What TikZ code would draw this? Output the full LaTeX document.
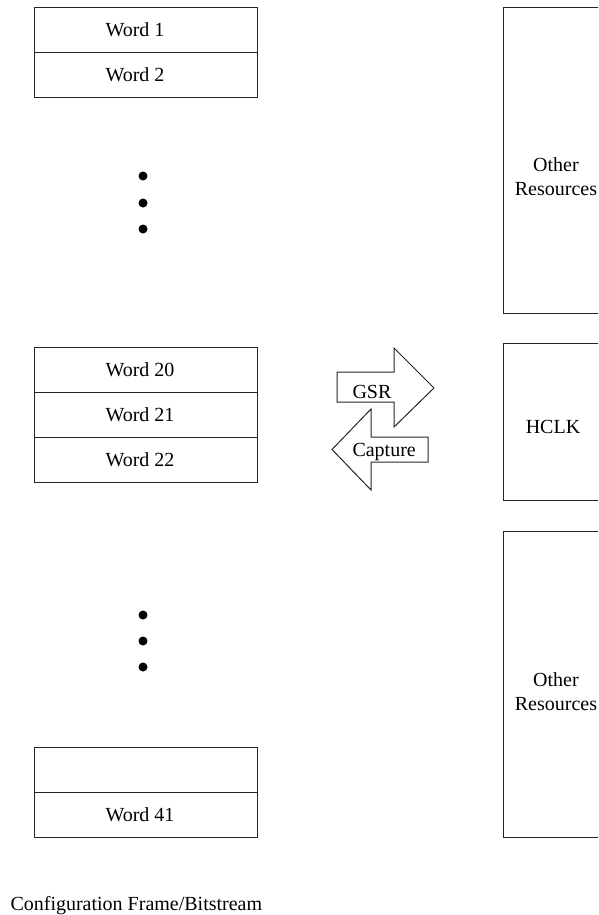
\documentclass[tikz,border=0pt]{standalone}
\usepackage{fontspec}
\setmainfont{Liberation Serif}
\begin{document}
\begin{tikzpicture}[x=1pt,y=-1pt,line width=1pt,
  cell/.style={draw=black!85,minimum width=223pt,minimum height=45pt,inner sep=0pt,anchor=north west},
  rbox/.style={draw=black!85,minimum width=117pt,inner sep=0pt,anchor=north west},
  lbl/.style={font=\fontsize{20}{24}\selectfont,inner sep=0pt},
  dot/.style={circle,fill=black,inner sep=0pt,minimum size=9pt},
  bigarrow/.style={draw=black!85,line join=miter}]
\useasboundingbox (0,0) rectangle (598,915);
\clip (0,0) rectangle (598,915);

% frame words, top group
\node[cell] (w1) at (34,7) {};
\node[cell] (w2) at (34,52) {};
\node[lbl,anchor=west] at ([xshift=71pt]w1.west) {Word 1};
\node[lbl,anchor=west] at ([xshift=71pt]w2.west) {Word 2};

% frame words, middle group
\node[cell] (w20) at (34,347) {};
\node[cell] (w21) at (34,392) {};
\node[cell] (w22) at (34,437) {};
\node[lbl,anchor=west] at ([xshift=71pt]w20.west) {Word 20};
\node[lbl,anchor=west] at ([xshift=71pt]w21.west) {Word 21};
\node[lbl,anchor=west] at ([xshift=71pt]w22.west) {Word 22};

% frame words, bottom group
\node[cell] (w40) at (34,747) {};
\node[cell] (w41) at (34,792) {};
\node[lbl,anchor=west] at ([xshift=71pt]w41.west) {Word 41};

% ellipses between the groups
\node[dot] (d1) at (143,176) {};
\node[dot] (d2) at (143,203) {};
\node[dot] (d3) at (143,229) {};
\node[dot] (d4) at (143,615) {};
\node[dot] (d5) at (143,641) {};
\node[dot] (d6) at (143,667) {};

% device resources column
\node[rbox,minimum height=306pt] (res1) at (503,7) {};
\node[lbl,anchor=base] (res1a) at (556,171) {Other};
\node[lbl,anchor=base] (res1b) at (556,195) {Resources};

\node[rbox,minimum height=157pt] (hclk) at (503,343) {};
\node[lbl,anchor=base] (hclkt) at (553,433) {HCLK};

\node[rbox,minimum height=306pt] (res2) at (503,531) {};
\node[lbl,anchor=base] (res2a) at (556,686) {Other};
\node[lbl,anchor=base] (res2b) at (556,710) {Resources};

% GSR / Capture block arrows
\draw[bigarrow] (337,372) -- (394,372) -- (394,348) -- (434,388)
  -- (394,427) -- (394,402) -- (337,402) -- cycle;
\node[lbl,anchor=base west] (gsr) at (352,398) {GSR};

\draw[bigarrow] (428,437) -- (371,437) -- (371,409) -- (332,449.5)
  -- (371,490) -- (371,462) -- (428,462) -- cycle;
\node[lbl,anchor=base west] (cap) at (352,456) {Capture};

% caption
\node[lbl,anchor=base west] (caption) at (10,910) {Configuration Frame/Bitstream};
\end{tikzpicture}
\end{document}
